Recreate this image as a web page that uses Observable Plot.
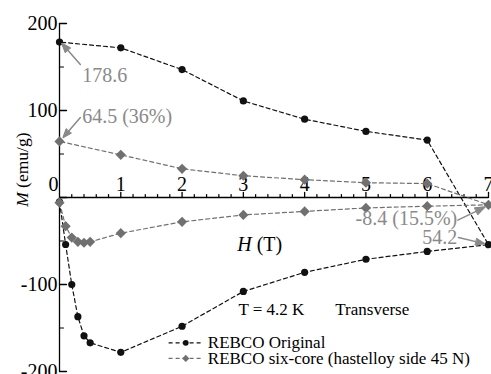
<!DOCTYPE html>
<html>
<head>
<meta charset="utf-8">
<script src="https://cdn.jsdelivr.net/npm/d3@7"></script>
<script src="https://cdn.jsdelivr.net/npm/@observablehq/plot@0.6"></script>
<style>
  html, body { margin: 0; padding: 0; background: #fff; }
  #chart { width: 491px; height: 374px; }
  #chart svg, #chart svg text { font-family: "Liberation Serif", "Times New Roman", serif !important; }
</style>
</head>
<body>
<div id="chart"></div>
<script>
// ---- data ----
const origH = [0, 0.1, 0.2, 0.3, 0.4, 0.5, 1, 2, 3, 4, 5, 6, 7, 6, 5, 4, 3, 2, 1, 0];
const origM = [-5, -54, -100, -137, -159, -167, -178, -148, -108, -86, -71, -62, -54.2, 66, 76, 90, 111, 147, 172, 178.6];
const sixH  = [0, 0.1, 0.2, 0.3, 0.4, 0.5, 1, 2, 3, 4, 5, 6, 7, 6, 5, 4, 3, 2, 1, 0];
const sixM  = [-6, -33, -46, -51, -52, -51, -41, -28, -20, -16, -12, -10, -8.4, 16, 17, 20.5, 25, 33, 49, 64.5];
const seriesNames = ["REBCO Original", "REBCO six-core (hastelloy side 45 N)"];
const yTickLabels = [200, 100, -100, -200];
const yMinorTicks = [150, 50, -50, -150];
const xTickLabels = [1, 2, 3, 4, 5, 6, 7];
const xMinorTicks = d3.range(0, 7.001, 0.2).map(v => +v.toFixed(1)).filter(v => !Number.isInteger(v));
const annoTexts = ["178.6", "64.5 (36%)", "-8.4 (15.5%)", "54.2"];

// ---- layout (annotation positions in data units) ----
const FONT = "Liberation Serif";
const orig = origH.map((h, i) => ({H: h, M: origM[i]}));
const six = sixH.map((h, i) => ({H: h, M: sixM[i]}));
const annoLeft = [
  {t: annoTexts[0], x: 0.37, y: 133},
  {t: annoTexts[1], x: 0.37, y: 86}
];
const annoRight = [
  {t: annoTexts[2], x: 6.49, y: -32},
  {t: annoTexts[3], x: 6.49, y: -53}
];
const arrows = [
  {x1: 0.34, y1: 153, x2: 0.04, y2: 177},
  {x1: 0.34, y1: 92, x2: 0.06, y2: 69},
  {x1: 6.50, y1: -26, x2: 6.94, y2: -11},
  {x1: 6.51, y1: -46, x2: 6.93, y2: -53}
];
const legendRows = [
  {name: seriesNames[0], y: -167, color: "#111", symbol: "circle", r: 3.6},
  {name: seriesNames[1], y: -185, color: "#707070", symbol: "diamond2", r: 4.6}
];

const tickUp = {draw(ctx, l) { ctx.moveTo(0, 0); ctx.lineTo(0, -l); }};
const tickRight = {draw(ctx, l) { ctx.moveTo(0, 0); ctx.lineTo(l, 0); }};

const gray = "#707070";
const annoGray = "#8a8a8a";
const T = (o) => Object.assign({fontFamily: FONT}, o);

const plot = Plot.plot({
  width: 491,
  height: 374,
  marginLeft: 59,
  marginRight: 3,
  marginTop: 23,
  marginBottom: 3,
  style: {fontSize: "20px", background: "#fff", color: "#000", overflow: "visible"},
  x: {domain: [0, 7], axis: null},
  y: {domain: [-200, 200], axis: null},
  marks: [
    // axes
    Plot.ruleX([0], {stroke: "#000", strokeWidth: 1.3}),
    Plot.ruleY([0], {stroke: "#000", strokeWidth: 1.3}),
    Plot.vector(yTickLabels.concat([0]), {x: () => 0, y: d => d, length: 7, shape: tickRight, anchor: "start", stroke: "#000", strokeWidth: 1.3}),
    Plot.vector(yMinorTicks, {x: () => 0, y: d => d, length: 4, shape: tickRight, anchor: "start", stroke: "#000", strokeWidth: 1.2}),
    Plot.vector(xTickLabels, {x: d => d, y: () => 0, length: 5, shape: tickUp, anchor: "start", stroke: "#000", strokeWidth: 1.3}),
    Plot.vector(xMinorTicks, {x: d => d, y: () => 0, length: 3, shape: tickUp, anchor: "start", stroke: "#000", strokeWidth: 1.2}),
    Plot.text(yTickLabels, T({x: () => 0, y: d => d, text: d => String(d), textAnchor: "end", dx: -2, fontSize: 20, fill: "#000"})),
    Plot.text(xTickLabels, T({x: d => d, y: () => 0, text: d => String(d), lineAnchor: "bottom", dy: -7, fontSize: 20, fill: "#000"})),
    Plot.text([0], T({x: () => 0, y: () => 0, text: d => String(d), textAnchor: "end", lineAnchor: "bottom", dx: -1, dy: -7, fontSize: 20, fill: "#000"})),
    // axis labels
    Plot.text(["M (emu/g)"], T({x: () => -0.6, y: () => 32, rotate: -90, fontSize: 17.5, fill: "#000", text: d => d})),
    Plot.text(["H (T)"], T({x: () => 2.9, y: () => -61, text: d => d, textAnchor: "start", lineAnchor: "bottom", fontSize: 20, fill: "#000"})),
    Plot.text(["T = 4.2 K"], T({x: () => 2.92, y: () => -135, text: d => d, textAnchor: "start", lineAnchor: "bottom", fontSize: 17, fill: "#000"})),
    Plot.text(["Transverse"], T({x: () => 4.5, y: () => -135, text: d => d, textAnchor: "start", lineAnchor: "bottom", fontSize: 17, fill: "#000"})),
    // series
    Plot.line(orig, {x: "H", y: "M", stroke: "#111", strokeWidth: 1.2, strokeDasharray: "4,3"}),
    Plot.dot(orig, {x: "H", y: "M", fill: "#111", r: 3.6, symbol: "circle"}),
    Plot.line(six, {x: "H", y: "M", stroke: gray, strokeWidth: 1.2, strokeDasharray: "4,3"}),
    Plot.dot(six, {x: "H", y: "M", fill: gray, stroke: "none", r: 4.6, symbol: "diamond2"}),
    // annotations
    Plot.arrow(arrows, {x1: "x1", y1: "y1", x2: "x2", y2: "y2", stroke: annoGray, strokeWidth: 1.5, headLength: 12, headAngle: 40, className: "annoarrow"}),
    Plot.text(annoLeft, T({x: "x", y: "y", text: "t", textAnchor: "start", lineAnchor: "bottom", fontSize: 20, fill: annoGray})),
    Plot.text(annoRight, T({x: "x", y: "y", text: "t", textAnchor: "end", lineAnchor: "bottom", fontSize: 20, fill: annoGray})),
    // legend
    Plot.link(legendRows, {x1: () => 1.78, x2: () => 2.35, y1: "y", y2: "y", stroke: "color", strokeWidth: 1.2, strokeDasharray: "4,3"}),
    Plot.dot(legendRows, {x: () => 2.06, y: "y", fill: "color", stroke: "none", r: "r", symbol: "symbol"}),
    Plot.text(legendRows, T({x: () => 2.42, y: "y", text: "name", textAnchor: "start", fontSize: 17, fill: "#000"}))
  ]
});

d3.select(plot).attr("font-family", FONT);

// filled arrowheads: find the arrow mark's paths and close their heads
const arrowPaths = [];
d3.select(plot).selectAll("g").each(function() {
  const lab = this.getAttribute("aria-label") || "";
  const cls = this.getAttribute("class") || "";
  if (lab === "arrow" || cls.includes("annoarrow")) {
    d3.select(this).selectAll("path").each(function() { arrowPaths.push(this); });
  }
});
arrowPaths.forEach(p => {
  const d = p.getAttribute("d") || "";
  const n = (d.match(/-?\d*\.?\d+(?:e-?\d+)?/g) || []).map(Number);
  if (n.length >= 10) {
    const k = n.length;
    const x3 = n[k - 6], y3 = n[k - 5], x2 = n[k - 4], y2 = n[k - 3], x4 = n[k - 2], y4 = n[k - 1];
    const np = document.createElementNS("http://www.w3.org/2000/svg", "path");
    np.setAttribute("d", `M${x3},${y3}L${x2},${y2}L${x4},${y4}Z`);
    np.setAttribute("fill", annoGray);
    np.setAttribute("stroke", annoGray);
    np.setAttribute("stroke-width", "1");
    const tr = p.getAttribute("transform");
    if (tr) np.setAttribute("transform", tr);
    p.parentNode.appendChild(np);
  }
});

// italic variable letters
d3.select(plot).selectAll("text").each(function() {
  const el = d3.select(this);
  const txt = this.textContent;
  if (txt === "M (emu/g)" || txt === "H (T)") {
    el.text(null);
    el.append("tspan").attr("font-style", "italic").text(txt[0]);
    el.append("tspan").text(txt.slice(1));
  }
});

document.getElementById("chart").appendChild(plot);
</script>
</body>
</html>
